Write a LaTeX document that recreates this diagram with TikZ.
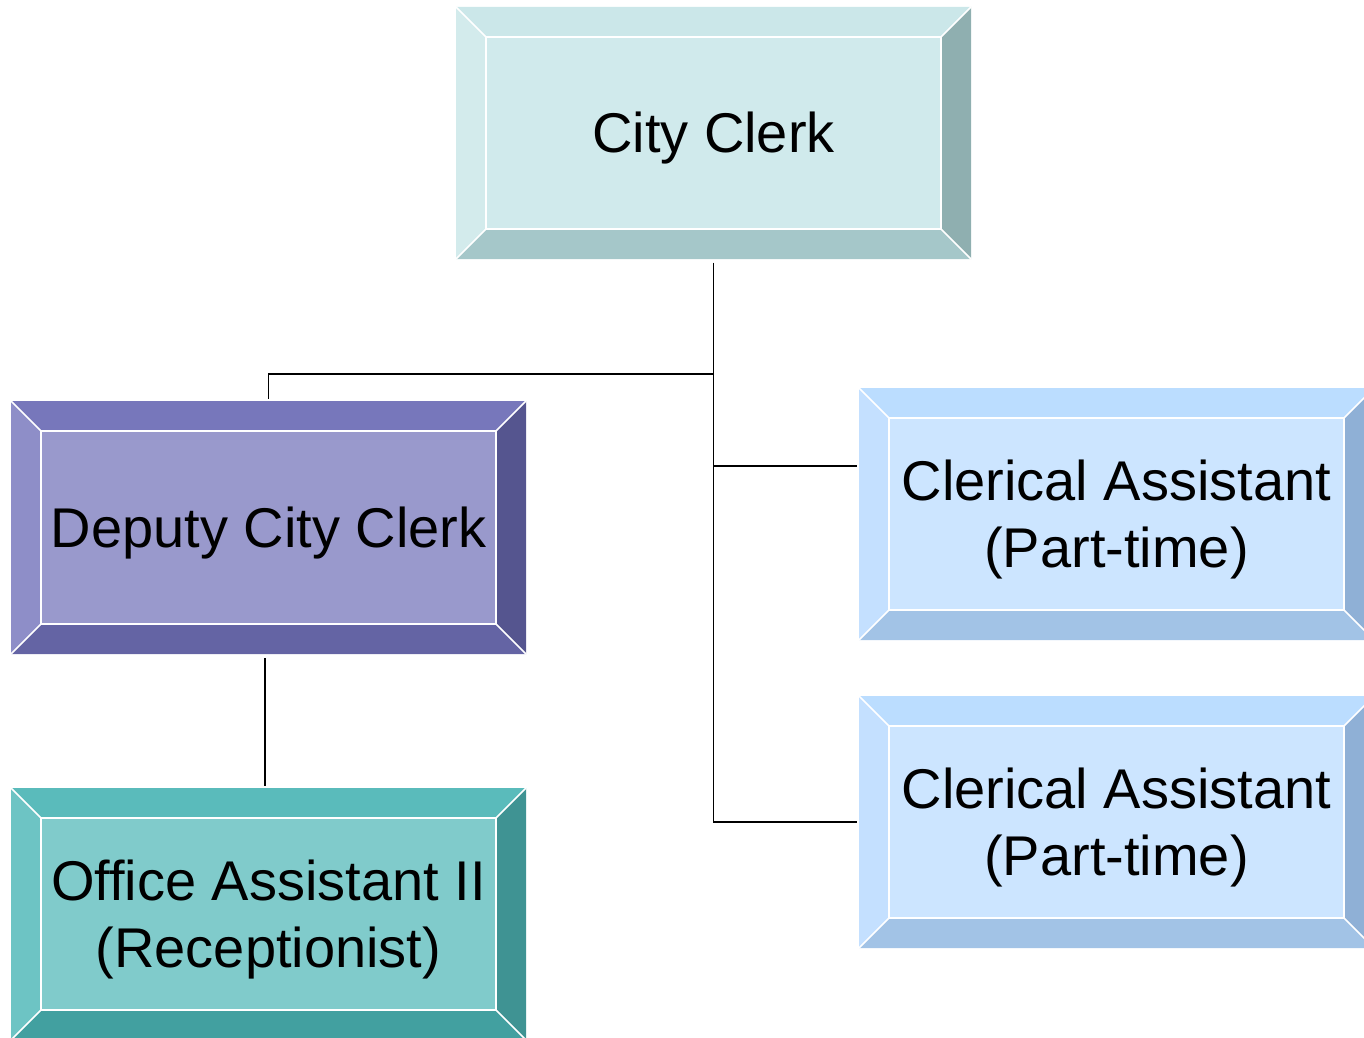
\documentclass[tikz,border=0pt]{standalone}
\usepackage{fontspec}
\setmainfont{Liberation Sans}
\definecolor{cctop}{HTML}{CBE7E9}
\definecolor{ccleft}{HTML}{D3EBEC}
\definecolor{ccright}{HTML}{8FAFB0}
\definecolor{ccbottom}{HTML}{A5C7C9}
\definecolor{ccface}{HTML}{D0EAEC}
\definecolor{dptop}{HTML}{7777BB}
\definecolor{dpleft}{HTML}{8E8EC8}
\definecolor{dpright}{HTML}{55558F}
\definecolor{dpbottom}{HTML}{6464A4}
\definecolor{dpface}{HTML}{9999CC}
\definecolor{oatop}{HTML}{5ABBBB}
\definecolor{oaleft}{HTML}{6DC4C4}
\definecolor{oaright}{HTML}{3F9393}
\definecolor{oabottom}{HTML}{42A0A0}
\definecolor{oaface}{HTML}{80CBCB}
\definecolor{catop}{HTML}{BBDDFF}
\definecolor{caleft}{HTML}{C4E0FF}
\definecolor{caright}{HTML}{8FB0D6}
\definecolor{cabottom}{HTML}{A2C3E6}
\definecolor{caface}{HTML}{CCE5FF}
\tikzset{
  boxtext/.style={align=center, inner sep=0pt, text=black,
    font=\fontsize{42}{50}\selectfont},
  boxshape/.style={inner sep=0pt, draw=none},
  edgeline/.style={white, line width=1.3pt},
  conn/.style={black, line width=1.3pt},
}
% #1 name, #2 x1, #3 y1, #4 x2, #5 y2, #6 colour prefix, #7 text
\newcommand\bevbox[7]{%
  \fill[#6face] (#2+30,#3+30) rectangle (#4-30,#5-30);
  \fill[#6top] (#2,#3) -- (#4,#3) -- (#4-30,#3+30) -- (#2+30,#3+30) -- cycle;
  \fill[#6bottom] (#2,#5) -- (#4,#5) -- (#4-30,#5-30) -- (#2+30,#5-30) -- cycle;
  \fill[#6left] (#2,#3) -- (#2+30,#3+30) -- (#2+30,#5-30) -- (#2,#5) -- cycle;
  \fill[#6right] (#4,#3) -- (#4-30,#3+30) -- (#4-30,#5-30) -- (#4,#5) -- cycle;
  \draw[edgeline] (#2+30,#3+30) rectangle (#4-30,#5-30);
  \draw[edgeline] (#2,#3) -- (#2+30,#3+30) (#4,#3) -- (#4-30,#3+30)
                  (#2,#5) -- (#2+30,#5-30) (#4,#5) -- (#4-30,#5-30);
  \node[boxshape, minimum width={(#4-#2)*0.75pt}, minimum height={(#5-#3)*0.75pt}]
    (#1) at ({(#2+#4)/2},{(#3+#5)/2}) {};
  \node[boxtext] (#1-t) at ([yshift=-4pt]#1.center) {#7};
}
\begin{document}
\begin{tikzpicture}[x=0.75pt,y=-0.75pt]
\useasboundingbox (0,0) rectangle (1364,1038);
\bevbox{cc}{456}{7}{971}{259}{cc}{City Clerk}
\bevbox{dep}{11}{401}{526}{654}{dp}{Deputy City Clerk}
\bevbox{oa}{11}{788}{526}{1040}{oa}{Office Assistant II\\(Receptionist)}
\bevbox{ca1}{859}{388}{1374}{640}{ca}{Clerical Assistant\\(Part-time)}
\bevbox{ca2}{859}{696}{1374}{948}{ca}{Clerical Assistant\\(Part-time)}
\coordinate (j1) at (713.5,374);
\coordinate (j2) at (713.5,466);
\draw[conn] ([yshift=-2.5pt]cc.south) -- (cc.south |- ca2.west) -- ([xshift=-1.5pt]ca2.west);
\draw[conn] (j1) -| ([yshift=1.5pt]dep.north);
\draw[conn] (j2) -- ([xshift=-1.5pt]j2 -| ca1.west);
\draw[conn] ([xshift=-2.6pt,yshift=-3pt]dep.south) -- ([xshift=-2.6pt,yshift=1pt]oa.north);
\end{tikzpicture}
\end{document}
